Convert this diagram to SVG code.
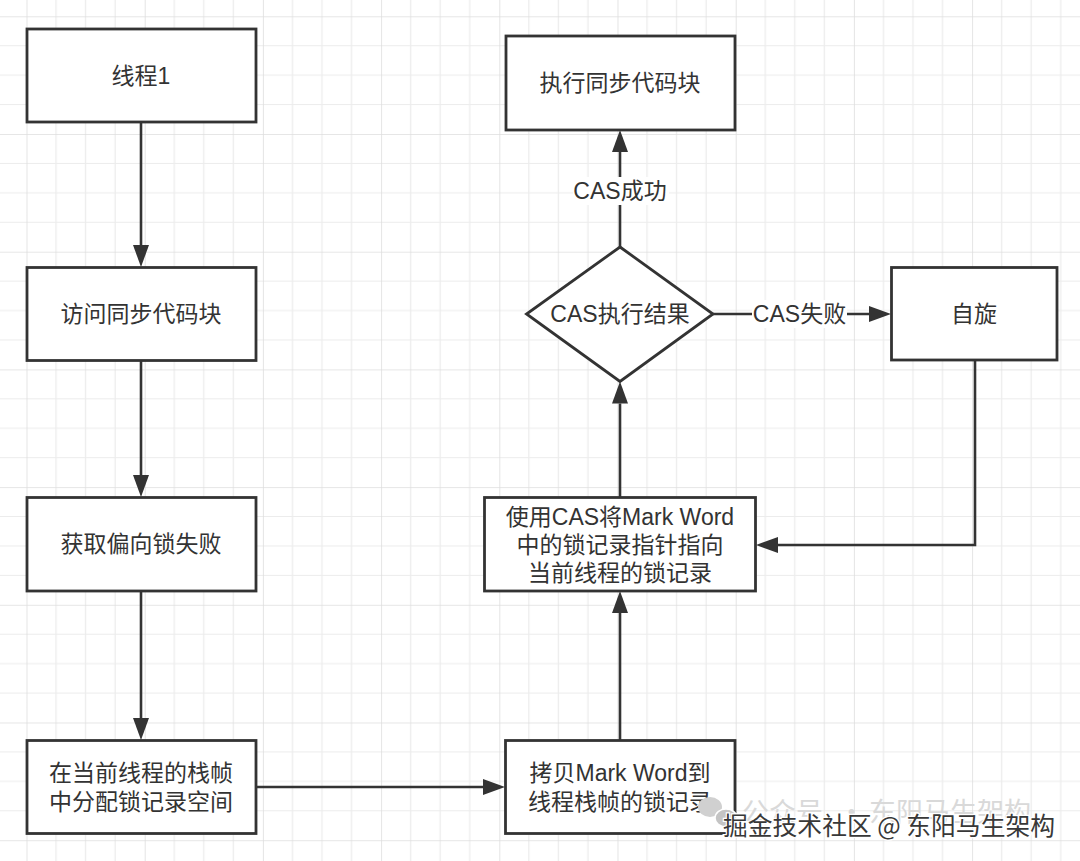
<svg xmlns="http://www.w3.org/2000/svg" width="1080" height="861" viewBox="0 0 1080 861">
<style>
.box{fill:#ffffff;stroke:#333333;stroke-width:2.8}
.t{font-family:"Liberation Sans","Noto Sans CJK SC",sans-serif;font-size:23px;fill:#333333;text-anchor:middle;dominant-baseline:central}
.edge{fill:none;stroke:#333333;stroke-width:2.6}
.lbg{fill:#ffffff}
.minor{stroke:#ececec;stroke-width:1.2}
.major{stroke:#dedede;stroke-width:1.6}
.wmf{font-family:"Noto Sans CJK SC",sans-serif;font-size:27px;fill:#d9d9d9;dominant-baseline:central}
</style>
<defs>
<marker id="arr" viewBox="0 0 22 16" markerUnits="userSpaceOnUse" markerWidth="22" markerHeight="16" refX="0" refY="8" orient="auto">
<path d="M0,0 L22,8 L0,16 z" fill="#333333"/>
</marker>
<pattern id="grid" patternUnits="userSpaceOnUse" x="26.5" y="16.3" width="118.2" height="117.7">
<rect width="118.2" height="117.7" fill="#ffffff"/>
<path class="minor" d="M29.55,0V117.7M59.1,0V117.7M88.65,0V117.7M0,29.42H118.2M0,58.85H118.2M0,88.27H118.2"/>
<path class="major" d="M0,0V117.7M0,0H118.2"/>
</pattern>
</defs>
<rect id="background" x="0" y="0" width="1080" height="861" fill="url(#grid)"/>

<g id="connectors">
<path class="edge" d="M141,122V245" marker-end="url(#arr)"/>
<path class="edge" d="M141,361V475" marker-end="url(#arr)"/>
<path class="edge" d="M141,591V718" marker-end="url(#arr)"/>
<path class="edge" d="M256,787H483" marker-end="url(#arr)"/>
<path class="edge" d="M620,740V613" marker-end="url(#arr)"/>
<path class="edge" d="M620,497V403.5" marker-end="url(#arr)"/>
<path class="edge" d="M620,247V152" marker-end="url(#arr)"/>
<path class="edge" d="M713,314H869" marker-end="url(#arr)"/>
<path class="edge" d="M975,360V545H778" marker-end="url(#arr)"/>
<g id="label-success">
<rect class="lbg" x="573" y="177" width="96" height="28"/>
<text class="t" x="620" y="191">CAS成功</text>
</g>
<g id="label-fail">
<rect class="lbg" x="752" y="300" width="95" height="28"/>
<text class="t" x="799.5" y="314">CAS失败</text>
</g>
</g>

<g id="node-thread1">
<rect class="box" x="27" y="29" width="229" height="93"/>
<text class="t" x="141" y="75.5">线程1</text>
</g>
<g id="node-access">
<rect class="box" x="27" y="267.5" width="229" height="93"/>
<text class="t" x="141" y="314">访问同步代码块</text>
</g>
<g id="node-biasfail">
<rect class="box" x="27" y="497.5" width="229" height="93.5"/>
<text class="t" x="141" y="544">获取偏向锁失败</text>
</g>
<g id="node-alloc">
<rect class="box" x="27" y="740.5" width="229" height="93"/>
<text class="t" x="141" y="773">在当前线程的栈帧</text>
<text class="t" x="141" y="802">中分配锁记录空间</text>
</g>
<g id="node-copy">
<rect class="box" x="505.5" y="740.5" width="229.5" height="93"/>
<text class="t" x="620" y="773">拷贝Mark Word到</text>
<text class="t" x="620" y="802">线程栈帧的锁记录</text>
</g>
<g id="node-cas">
<rect class="box" x="484.5" y="497.5" width="271" height="93.5"/>
<text class="t" x="620" y="516.7">使用CAS将Mark Word</text>
<text class="t" x="620" y="545">中的锁记录指针指向</text>
<text class="t" x="620" y="573.3">当前线程的锁记录</text>
</g>
<g id="node-decision">
<path class="box" d="M620,247 L713,314 L620,381.5 L526.5,314 z"/>
<text class="t" x="620" y="314">CAS执行结果</text>
</g>
<g id="node-exec">
<rect class="box" x="506" y="36" width="229" height="94"/>
<text class="t" x="620" y="83">执行同步代码块</text>
</g>
<g id="node-spin">
<rect class="box" x="891.5" y="267.5" width="165.5" height="92.5"/>
<text class="t" x="974" y="313.5">自旋</text>
</g>

<g id="watermark">
<ellipse cx="710" cy="807" rx="12" ry="10" fill="#d0d0d0"/>
<ellipse cx="726" cy="818" rx="11" ry="9" fill="#c4c4c4" stroke="#ffffff" stroke-width="1.5"/>
<text class="wmf" x="742" y="810">公众号</text>
<text class="wmf" x="838" y="810">·</text>
<text class="wmf" x="869" y="810">东阳马生架构</text>
<text x="723" y="824" font-family="'Noto Sans CJK SC',sans-serif" font-size="25" fill="#383838" stroke="#ffffff" stroke-width="2.5" paint-order="stroke" dominant-baseline="central" textLength="332" lengthAdjust="spacingAndGlyphs">掘金技术社区 @ 东阳马生架构</text>
</g>
</svg>
